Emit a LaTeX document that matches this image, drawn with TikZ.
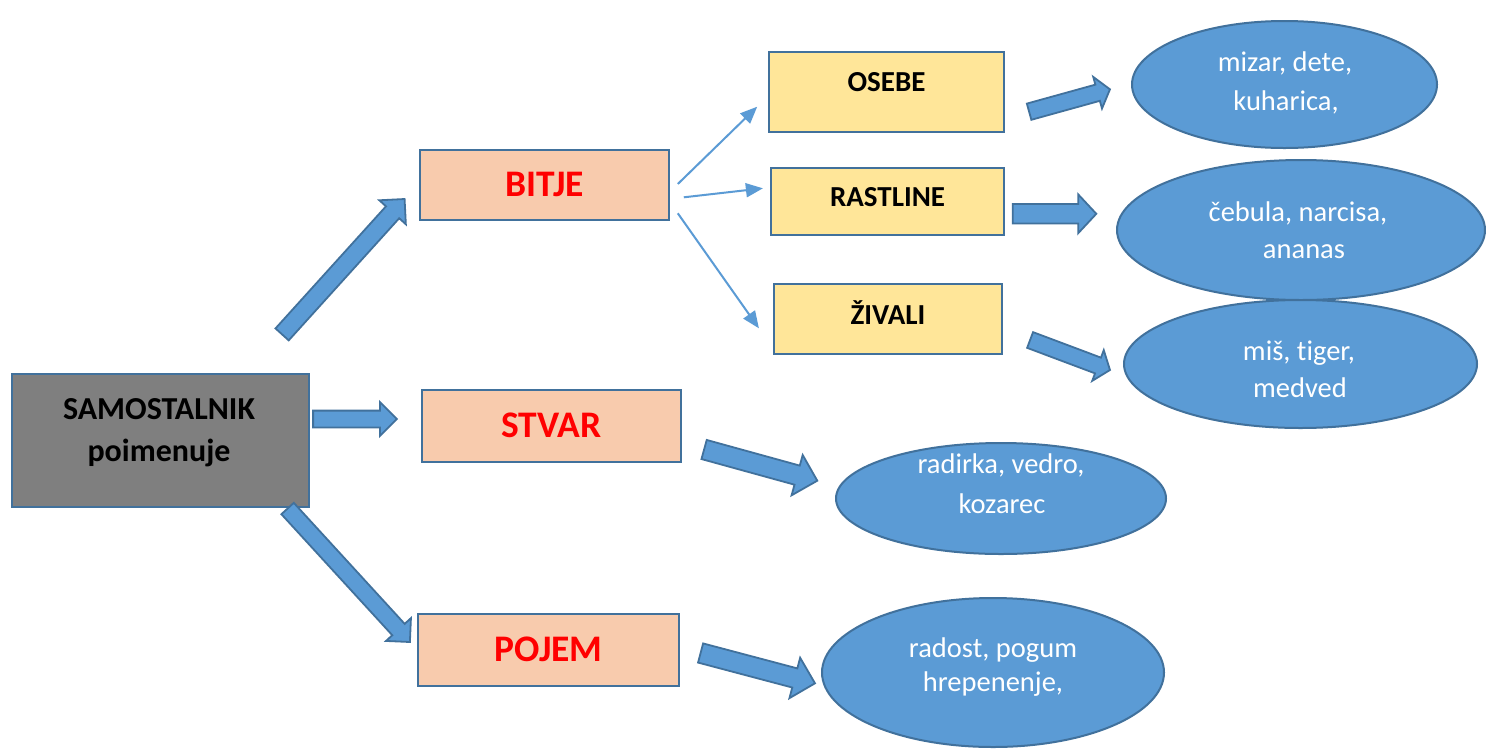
\documentclass[tikz,border=0pt]{standalone}
\usepackage{fontspec}
\setmainfont{Carlito}[Ligatures=NoCommon]
\usetikzlibrary{shapes.geometric,shapes.arrows,arrows.meta,calc}
\definecolor{bord}{HTML}{41719C}
\definecolor{ablue}{HTML}{5B9BD5}
\definecolor{gbox}{HTML}{7F7F7F}
\definecolor{peach}{HTML}{F8CBAD}
\definecolor{yel}{HTML}{FFE699}
\definecolor{redtxt}{HTML}{FF0000}

% #1 style, #2 name, #3 tail point, #4 tip point
\newcommand{\blockarrow}[4]{%
  \path let \p1=#3, \p2=#4,
    \n1={atan2(\y2-\y1,\x2-\x1)}, \n2={veclen(\x2-\x1,\y2-\y1)} in
    node[#1, minimum height=\n2, rotate=\n1, anchor=tail] (#2) at (\p1) {};}

\begin{document}
\begin{tikzpicture}[x=1pt,y=-1pt,
  box/.style={draw=bord, line width=2.2pt, rectangle, inner sep=0pt},
  redbox/.style={box, fill=peach, text=redtxt,
    font=\fontsize{37.5}{42}\selectfont\bfseries, text height=23.7pt, text depth=0pt},
  yelbox/.style={box, fill=yel,
    font=\fontsize{29}{34}\selectfont\bfseries, text height=18.3pt},
  samtxt/.style={anchor=base, inner sep=0pt, font=\fontsize{32}{38}\selectfont\bfseries},
  ell/.style={ellipse, draw=bord, fill=ablue, line width=2pt, inner sep=0pt},
  etxt/.style={anchor=base, inner sep=0pt, text=white, font=\fontsize{28.5}{34}\selectfont},
  barrow/.style n args={3}{single arrow, draw=bord, fill=ablue, line width=1.8pt,
    inner xsep=0pt, inner ysep=#1, single arrow head extend=#2,
    single arrow tip angle=#3, outer sep=0pt},
  thinarr/.style={draw=ablue, line width=2pt, -{Triangle[length=17pt,width=14pt]}}
]
\useasboundingbox (0,0) rectangle (1486,748);
\fill[white] (0,0) rectangle (1486,748);

% main box
\node[box, fill=gbox, minimum width=297, minimum height=133] (sam) at (160.5,440.5) {};
\node[samtxt] (samA) at (159,419) {SAMOSTALNIK};
\node[samtxt] (samB) at (159,461) {poimenuje};

% category boxes
\node[redbox, minimum width=249, minimum height=70] (bitje) at (544.5,185) {BITJE};
\node[redbox, minimum width=259, minimum height=72] (stvar) at (551.5,426) {STVAR};
\node[redbox, minimum width=261, minimum height=72] (pojem) at (548.5,650) {POJEM};

% sub boxes
\node[yelbox, text depth=19pt, minimum width=235, minimum height=80] (osebe) at (886.5,92) {OSEBE};
\node[yelbox, text depth=9pt, minimum width=233, minimum height=67] (rastline) at (887.5,201.5) {RASTLINE};
\node[yelbox, text depth=8pt, minimum width=228, minimum height=70] (zivali) at (888,319) {ŽIVALI};

% ellipses
\node[ell, minimum width=305, minimum height=127] (e1) at (1284.5,84.5) {};
\node[etxt] (e1a) at (1285,71) {mizar, dete,};
\node[etxt] (e1b) at (1286,110) {kuharica,};

\node[ell, minimum width=368, minimum height=140] (e2) at (1301,230) {};
\node[etxt] (e2a) at (1298,221) {čebula, narcisa,};
\node[etxt] (e2b) at (1304,258) {ananas};

\node[ell, minimum width=353, minimum height=128] (e3) at (1300.5,364) {};
\node[etxt] (e3a) at (1299,360) {miš, tiger,};
\node[etxt] (e3b) at (1300,397) {medved};

\node[ell, minimum width=330, minimum height=111] (e4) at (1001,498.5) {};
\node[etxt] (e4a) at (1001,473) {radirka, vedro,};
\node[etxt] (e4b) at (1002,513) {kozarec};

\node[ell, minimum width=342, minimum height=149] (e5) at (993,672.5) {};
\node[etxt] (e5a) at (993,657) {radost, pogum};
\node[etxt] (e5b) at (993,691) {hrepenenje,};

% block arrows
\blockarrow{barrow={8pt}{9pt}{90}}{a1}{([shift={(-28,-38.5)}]sam.north east)}{([shift={(-14.3,14)}]bitje.west)}
\blockarrow{barrow={7.5pt}{8.5pt}{90}}{a2}{([shift={(3,-21.5)}]sam.east)}{([shift={(-24,-7)}]stvar.west)}
\blockarrow{barrow={7.5pt}{8.5pt}{90}}{a3}{([shift={(-22.5,0.4)}]sam.south east)}{([shift={(-7,-8)}]pojem.west)}
\blockarrow{barrow={9pt}{11pt}{90}}{a4}{([shift={(22,23.5)}]stvar.east)}{([shift={(-17.7,-17.8)}]e4.west)}
\blockarrow{barrow={9pt}{11pt}{90}}{a5}{([shift={(20.5,3)}]pojem.east)}{([shift={(-6,10.8)}]e5.west)}
\blockarrow{barrow={7.5pt}{8pt}{104}}{a6}{([shift={(24,19.7)}]osebe.east)}{([shift={(-21,4.8)}]e1.west)}
\blockarrow{barrow={8.85pt}{9.65pt}{94}}{a7}{([shift={(7.7,12.3)}]rastline.east)}{([shift={(-19.7,-16.2)}]e2.west)}
\blockarrow{barrow={7.5pt}{8pt}{104}}{a8}{([shift={(27,21)}]zivali.east)}{([shift={(-13,6)}]e3.west)}

% thin arrows
\draw[thinarr] ([shift={(7.7,-1)}]bitje.east) -- ([shift={(-10.7,14.7)}]osebe.west);
\draw[thinarr] ([shift={(13.7,12.3)}]bitje.east) -- ([shift={(-7,-13.2)}]rastline.west);
\draw[thinarr] ([shift={(7.7,28.3)}]bitje.east) -- ([shift={(-14,9.3)}]zivali.west);
\end{tikzpicture}
\end{document}
